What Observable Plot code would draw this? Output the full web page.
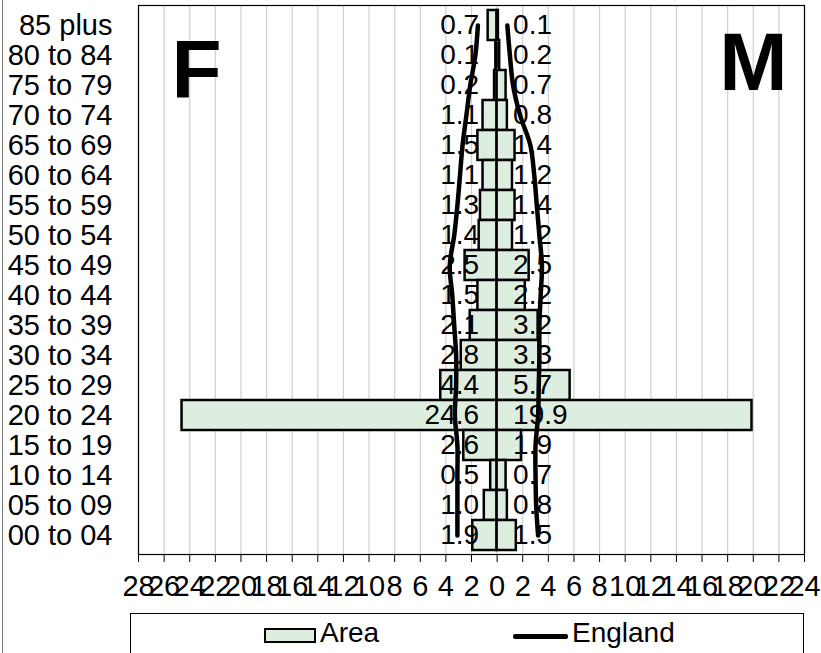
<!DOCTYPE html>
<html>
<head>
<meta charset="utf-8">
<script src="https://cdn.jsdelivr.net/npm/d3@7"></script>
<script src="https://cdn.jsdelivr.net/npm/@observablehq/plot@0.6"></script>
<style>
  body { margin: 0; background: #fff; font-family: "Liberation Sans", Arial, sans-serif; }
  #wrap { position: relative; width: 821px; height: 653px; overflow: hidden; }
  #edge { position: absolute; left: 2px; top: 0; width: 1px; height: 653px; background: #777; }
  #legend { position: absolute; left: 130px; top: 613px; width: 674px; height: 50px; border: 1px solid #000; box-sizing: border-box; font-size: 28px; }
  #legend .sw { position: absolute; left: 133px; top: 14px; width: 52px; height: 15px; background: #ddeee1; border: 2.5px solid #000; box-sizing: border-box; }
  #legend .ln { position: absolute; left: 382px; top: 20px; width: 55px; height: 4.5px; background: #000; border-radius: 2px; }
  #legend .t1 { position: absolute; left: 189px; top: 3px; }
  #legend .t2 { position: absolute; left: 441px; top: 3px; }
  .yax text { font-size: 29px; }
  .xax text { font-size: 29px; }
</style>
</head>
<body>
<div id="wrap">
  <div id="chart"></div>
  <div id="edge"></div>
  <div id="legend"><div class="sw"></div><span class="t1">Area</span><div class="ln"></div><span class="t2">England</span></div>
</div>
<script>
const ages = ["85 plus","80 to 84","75 to 79","70 to 74","65 to 69","60 to 64","55 to 59","50 to 54","45 to 49","40 to 44","35 to 39","30 to 34","25 to 29","20 to 24","15 to 19","10 to 14","05 to 09","00 to 04"];
const femaleArea = [0.7, 0.1, 0.2, 1.1, 1.5, 1.1, 1.3, 1.4, 2.5, 1.5, 2.1, 2.8, 4.4, 24.6, 2.6, 0.5, 1.0, 1.9];
const maleArea   = [0.1, 0.2, 0.7, 0.8, 1.4, 1.2, 1.4, 1.2, 2.5, 2.2, 3.2, 3.3, 5.7, 19.9, 1.9, 0.7, 0.8, 1.5];
const femaleEngland = [1.5, 1.7, 2.1, 2.4, 2.7, 2.9, 3.1, 3.35, 3.7, 3.5, 3.35, 3.2, 3.2, 3.3, 3.1, 3.1, 3.1, 3.1];
const maleEngland   = [0.8, 1.0, 1.25, 1.8, 2.6, 2.9, 3.1, 3.3, 3.5, 3.4, 3.3, 3.3, 3.25, 3.2, 3.0, 3.0, 3.05, 3.2];
const xTicks = [-28,-26,-24,-22,-20,-18,-16,-14,-12,-10,-8,-6,-4,-2,0,2,4,6,8,10,12,14,16,18,20,22,24];
const sideLabels = ["F", "M"];

const rows = ages.map((age, i) => ({age, f: femaleArea[i], m: maleArea[i], fe: femaleEngland[i], me: maleEngland[i]}));

const chart = Plot.plot({
  width: 821,
  height: 605,
  marginLeft: 138,
  marginRight: 17,
  marginTop: 5,
  marginBottom: 51,
  style: {fontFamily: "'Liberation Sans', Arial, sans-serif", fontSize: "28px", color: "#000", background: "#fff"},
  x: {domain: [-28, 24], label: null},
  y: {domain: ages, padding: 0, label: null},
  marks: [
    Plot.gridX(xTicks, {stroke: "#d0d0d0", strokeOpacity: 1, strokeWidth: 1.2}),
    Plot.barX(rows, {x1: 0, x2: d => -d.f, y: "age", fill: "#ddeee1", stroke: "#000", strokeWidth: 2.5}),
    Plot.barX(rows, {x1: 0, x2: d => d.m, y: "age", fill: "#ddeee1", stroke: "#000", strokeWidth: 2.5}),
    Plot.text(rows, {x: 0, y: "age", text: d => d.f.toFixed(1), textAnchor: "end", dx: -18, fontSize: 28, fill: "#000"}),
    Plot.text(rows, {x: 0, y: "age", text: d => d.m.toFixed(1), textAnchor: "start", dx: 16, fontSize: 28, fill: "#000"}),
    Plot.line(rows, {x: d => -d.fe, y: "age", curve: "catmull-rom", stroke: "#000", strokeWidth: 4.5}),
    Plot.line(rows, {x: "me", y: "age", curve: "catmull-rom", stroke: "#000", strokeWidth: 4.5}),
    Plot.frame({stroke: "#000", strokeWidth: 1.2}),
    Plot.axisX(xTicks, {tickFormat: d => Math.abs(d), tickSize: 8, tickPadding: 13, className: "xax"}),
    Plot.axisY({tickSize: 0, tickPadding: 26, className: "yax"}),
    Plot.text([sideLabels[0]], {frameAnchor: "top-left", text: d => d, dx: 33, dy: 34, lineAnchor: "top", textAnchor: "start", fontSize: 82, fontWeight: "bold", fill: "#000"}),
    Plot.text([sideLabels[1]], {frameAnchor: "top-right", text: d => d, dx: -17, dy: 26, lineAnchor: "top", textAnchor: "end", fontSize: 82, fontWeight: "bold", fill: "#000"})
  ]
});
document.getElementById("chart").appendChild(chart);
</script>
</body>
</html>
